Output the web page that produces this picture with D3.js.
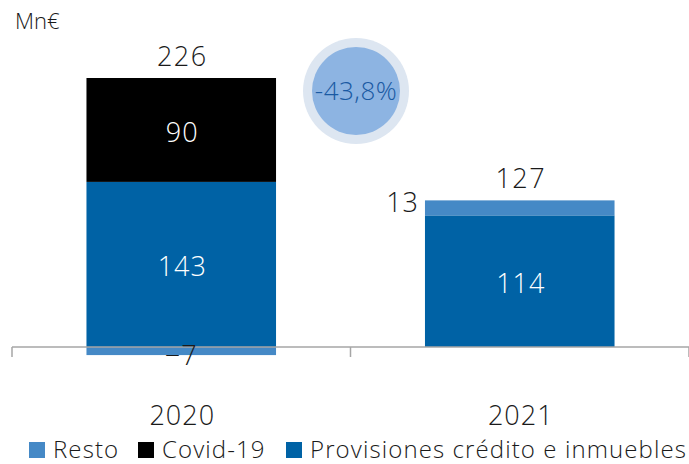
<!DOCTYPE html>
<html>
<head>
<meta charset="utf-8">
<script src="https://cdn.jsdelivr.net/npm/d3@7"></script>
<style>
  body { margin: 0; background: #fff; }
  text { font-family: "Open Sans", Lato, sans-serif; font-weight: 300; }
</style>
</head>
<body>
<div id="chart"></div>
<script>
// chart values
const years = ["2020", "2021"];
const keys = ["Provisiones", "Covid", "Resto"];
const provisiones = [143, 114];
const covid = [90, 0];
const resto = [-7, 13];
const totals = [226, 127];
const legendLabels = ["Resto", "Covid-19", "Provisiones crédito e inmuebles"];
const legendKeys = ["Resto", "Covid", "Provisiones"];
const changeLabel = "-43,8%";

const width = 689, height = 464;
const colors = {Provisiones: "#0062a5", Covid: "#000000", Resto: "#4589c6"};

const svg = d3.select("#chart").append("svg")
    .attr("width", width)
    .attr("height", height);

// build rows for the stack
const rows = years.map(function(y, i) {
    return {year: y, Provisiones: provisiones[i], Covid: covid[i], Resto: resto[i], total: totals[i]};
});

const series = d3.stack()
    .keys(keys)
    .offset(d3.stackOffsetDiverging)(rows);

const x = d3.scaleBand()
    .domain(years)
    .range([12, 689])
    .paddingInner(0.44)
    .paddingOuter(0.22);

const y = d3.scaleLinear()
    .domain([0, 233])
    .range([347, 78]);

// bars
svg.selectAll(".layer")
    .data(series)
    .enter().append("g")
    .attr("class", "layer")
    .attr("fill", function(d) { return colors[d.key]; })
    .selectAll("rect")
    .data(function(d) { return d; })
    .enter().append("rect")
    .attr("x", function(d) { return x(d.data.year); })
    .attr("width", x.bandwidth())
    .attr("y", function(d) { return y(Math.max(d[0], d[1])); })
    .attr("height", function(d) { return Math.abs(y(d[0]) - y(d[1])); });

// axis line with ticks
const axis = svg.append("g").attr("transform", "translate(0," + y(0) + ")");
axis.append("line")
    .attr("x1", 12).attr("x2", width)
    .attr("stroke", "#a6a6a6").attr("stroke-width", 1.5);
const tickX = [x.range()[0], (x("2020") + x.bandwidth() + x("2021")) / 2, x.range()[1]];
axis.selectAll(".tick")
    .data(tickX)
    .enter().append("line")
    .attr("x1", function(d) { return d; })
    .attr("x2", function(d) { return d; })
    .attr("y1", 0).attr("y2", 10)
    .attr("stroke", "#a6a6a6").attr("stroke-width", 1.5);

// labels inside segments (white)
["Provisiones", "Covid"].forEach(function(k) {
    const s = series.find(function(d) { return d.key === k; });
    svg.selectAll(".lbl-" + k)
        .data(s.filter(function(d) { return d[1] - d[0] > 0; }))
        .enter().append("text")
        .attr("x", function(d) { return x(d.data.year) + x.bandwidth() / 2 + 1; })
        .attr("y", function(d) { return (y(d[0]) + y(d[1])) / 2 + 12; })
        .attr("text-anchor", "middle")
        .attr("fill", "#fff")
        .attr("font-size", 27)
        .attr("letter-spacing", 1)
        .text(function(d) { return d.data[k]; });
});

// resto labels
const restoSeries = series.find(function(d) { return d.key === "Resto"; });
svg.selectAll(".lbl-resto")
    .data(restoSeries)
    .enter().append("text")
    .attr("x", function(d) {
        return d.data.Resto < 0 ? x(d.data.year) + x.bandwidth() / 2 : x(d.data.year) - 6;
    })
    .attr("y", function(d) {
        return d.data.Resto < 0 ? y(d[0]) + 10 : (y(d[0]) + y(d[1])) / 2 + 4;
    })
    .attr("text-anchor", function(d) { return d.data.Resto < 0 ? "middle" : "end"; })
    .attr("fill", "#1a1a1a")
    .attr("font-size", 27)
    .attr("letter-spacing", 1)
    .text(function(d) { return d.data.Resto < 0 ? "\u2212" + Math.abs(d.data.Resto) : d.data.Resto; });

// totals above bars
svg.selectAll(".total")
    .data(rows)
    .enter().append("text")
    .attr("x", function(d) { return x(d.year) + x.bandwidth() / 2 + 1; })
    .attr("y", function(d) {
        const top = d3.max(series, function(s) { return s[rows.indexOf(d)][1]; });
        return y(top) - 12;
    })
    .attr("text-anchor", "middle")
    .attr("fill", "#1a1a1a")
    .attr("font-size", 27)
    .attr("letter-spacing", 1.5)
    .text(function(d) { return d.total; });

// category labels
svg.selectAll(".cat")
    .data(years)
    .enter().append("text")
    .attr("x", function(d) { return x(d) + x.bandwidth() / 2 + 1; })
    .attr("y", 425)
    .attr("text-anchor", "middle")
    .attr("fill", "#1a1a1a")
    .attr("font-size", 27)
    .attr("letter-spacing", 1)
    .text(function(d) { return d; });

// unit label
svg.append("text")
    .attr("x", 15).attr("y", 29)
    .attr("fill", "#1a1a1a")
    .attr("font-size", 22)
    .text("Mn€");

// change bubble
const bubble = svg.append("g").attr("transform", "translate(356,91)");
bubble.append("circle").attr("r", 53).attr("fill", "#dde6f1");
bubble.append("circle").attr("r", 44).attr("fill", "#8db4e2");
bubble.append("text")
    .attr("y", 9)
    .attr("text-anchor", "middle")
    .attr("fill", "#1a5aa3")
    .attr("font-size", 26)
    .attr("letter-spacing", 0.5)
    .text(changeLabel);

// legend
const legendX = [29, 138, 286];
const legend = svg.selectAll(".legend")
    .data(legendKeys)
    .enter().append("g")
    .attr("transform", function(d, i) { return "translate(" + legendX[i] + ",442)"; });
legend.append("rect")
    .attr("width", 16).attr("height", 16)
    .attr("fill", function(d) { return colors[d]; });
legend.append("text")
    .attr("x", 24).attr("y", 16)
    .attr("fill", "#1a1a1a")
    .attr("font-size", 24)
    .attr("letter-spacing", 1.1)
    .text(function(d, i) { return legendLabels[i]; });
</script>
</body>
</html>
